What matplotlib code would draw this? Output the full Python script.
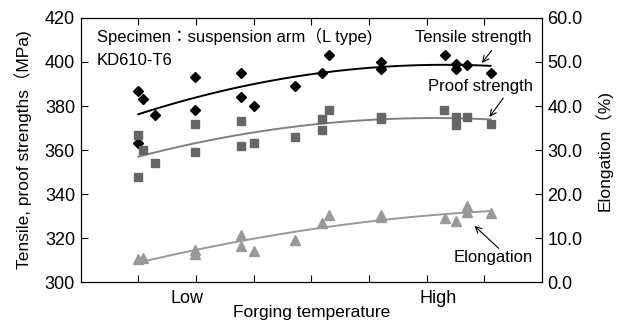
import matplotlib
matplotlib.use("Agg")
import matplotlib.pyplot as plt
import numpy as np

plt.rcParams['font.family'] = ['Liberation Sans', 'Noto Sans CJK JP', 'DejaVu Sans']

# forging temperature position (arbitrary units, 1..7 = tick positions)
ts_x = [1.0, 1.09, 1.29, 1.98, 1.98, 2.79, 2.79, 3.0, 3.71, 4.19, 4.30, 1.0,
        5.21, 5.21, 6.32, 6.51, 6.51, 6.71, 7.11]
ts_y = [387, 383, 376, 393, 378, 395, 384, 380, 389, 395, 403, 363,
        400, 397, 403, 399, 397, 398.5, 395]

ps_x = [1.0, 1.09, 1.0, 1.29, 1.98, 1.98, 2.79, 2.79, 3.0, 3.71, 4.19, 4.19, 4.30,
        5.21, 5.21, 6.31, 6.51, 6.51, 6.70, 7.11]
ps_y = [367, 360, 348, 354, 372, 359, 373, 362, 363, 366, 374, 369, 378,
        375, 374, 378, 375, 371.5, 375, 372]

el_x = [1.0, 1.09, 1.98, 1.98, 2.79, 2.79, 3.0, 3.71, 4.19, 4.30,
        5.21, 5.21, 6.32, 6.51, 6.71, 6.71, 7.12]
el_y = [5.2, 5.4, 7.3, 6.4, 10.7, 8.3, 7.0, 9.5, 13.4, 15.3,
        15.3, 14.8, 14.5, 14.0, 17.2, 15.9, 15.7]

x_ticks = [1, 2, 3, 4, 5, 6, 7]
fit_range = [1.0, 7.11]


def trend(x, y):
    c = np.polyfit(x, y, 2)
    xx = np.linspace(fit_range[0], fit_range[1], 100)
    return xx, np.polyval(c, xx)


def arrow(a, head, tail):
    a.annotate('', xy=head, xytext=tail,
               arrowprops=dict(arrowstyle='->,head_length=0.45,head_width=0.22',
                               lw=0.8, color='black', shrinkA=0, shrinkB=0))


fig = plt.figure(figsize=(6.25, 3.2), dpi=100)
ax = fig.add_axes([0.129, 0.118, 0.738, 0.826])
ax2 = ax.twinx()

ax.plot(ts_x, ts_y, 'D', color='black', markersize=5.5, zorder=3)
xx, yy = trend(ts_x, ts_y)
ax.plot(xx, yy, color='black', lw=1.4)

ax.plot(ps_x, ps_y, 's', color='#666666', markersize=6, zorder=3)
xx, yy = trend(ps_x, ps_y)
ax.plot(xx, yy, color='#808080', lw=1.4)

ax2.plot(el_x, el_y, '^', color='#999999', markersize=7, zorder=3)
xx, yy = trend(el_x, el_y)
ax2.plot(xx, yy, color='#999999', lw=1.4)

ax.set_xlim(0, 8)
ax.set_ylim(300, 420)
ax2.set_ylim(0, 60)
ax.set_yticks(np.arange(300, 421, 20))
ax2.set_yticks(np.arange(0, 61, 10))
ax2.set_yticklabels(['%.1f' % v for v in np.arange(0, 61, 10)])
ax.set_xticks(x_ticks)
ax.set_xticklabels([])
ax.tick_params(axis='x', direction='in', top=True, length=5)
ax.tick_params(axis='y', direction='in', length=5, labelsize=13, pad=4)
ax2.tick_params(axis='y', direction='in', length=5, labelsize=13, pad=4)

ax.text(1.85, -0.03, 'Low', transform=ax.get_xaxis_transform(), ha='center', va='top', fontsize=13)
ax.text(6.2, -0.03, 'High', transform=ax.get_xaxis_transform(), ha='center', va='top', fontsize=13)
ax.text(0.5, -0.085, 'Forging temperature', transform=ax.transAxes, ha='center', va='top', fontsize=12.5)

ax.set_ylabel('Tensile, proof strengths（MPa)', fontsize=12.5, labelpad=9)
ax2.set_ylabel('Elongation（%)', fontsize=12.5, labelpad=9)

ax.text(0.28, 411.7, 'Specimen：suspension arm（L type)', fontsize=12, va='center')
ax.text(0.28, 400.8, 'KD610-T6', fontsize=12, va='center')

ax.text(6.81, 411.2, 'Tensile strength', ha='center', va='center', fontsize=12)
arrow(ax, (6.96, 399.5), (7.13, 405.3))
ax.text(6.93, 389, 'Proof strength', ha='center', va='center', fontsize=12)
arrow(ax, (7.09, 375), (7.33, 383.6))
ax2.text(7.16, 5.6, 'Elongation', ha='center', va='center', fontsize=12)
arrow(ax2, (6.83, 12.8), (7.25, 7.7))

fig.savefig('out.png', dpi=100)
